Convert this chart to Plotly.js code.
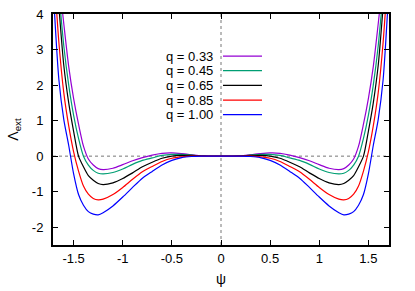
<!DOCTYPE html>
<html>
<head>
<meta charset="utf-8">
<script src="https://cdn.plot.ly/plotly-3.0.1.min.js"></script>
<style>html,body{margin:0;padding:0;background:#fff}#chart{width:415px;height:291px}</style>
</head>
<body>
<div id="chart"></div>
<script>
// psi grid
var psi = [-1.7,-1.65,-1.6,-1.55,-1.5,-1.45,-1.4,-1.35,-1.3,-1.25,-1.2,-1.1,-1.0,-0.9,-0.8,-0.7,-0.6,-0.5,-0.4,-0.3,-0.2,-0.1,0,
           0.1,0.2,0.3,0.4,0.5,0.6,0.7,0.8,0.9,1.0,1.1,1.2,1.25,1.3,1.35,1.4,1.45,1.5,1.55,1.6,1.65,1.7];

var seriesNames = ["q = 0.33","q = 0.45","q = 0.65","q = 0.85","q = 1.00"];
var seriesColors = ["#9400d3","#009e73","#000000","#ff0000","#0000ff"];

var lam033 = [6.3,5.0,3.72,2.52,1.62,0.9,0.28,-0.08,-0.25,-0.35,-0.38,-0.34,-0.24,-0.13,-0.04,0.03,0.08,0.09,0.07,0.04,0.01,0,0,
              0,0.01,0.04,0.07,0.09,0.08,0.03,-0.04,-0.13,-0.24,-0.34,-0.38,-0.35,-0.25,-0.08,0.28,0.9,1.62,2.52,3.72,5.0,6.3];
var lam045 = [6.2,4.6,3.1,2.0,1.15,0.5,0.0,-0.25,-0.4,-0.48,-0.50,-0.46,-0.36,-0.23,-0.12,-0.05,0.02,0.05,0.05,0.03,0.01,0,0,
              0,0.01,0.03,0.05,0.05,0.02,-0.05,-0.12,-0.23,-0.36,-0.46,-0.50,-0.48,-0.4,-0.25,0.0,0.5,1.15,2.0,3.1,4.6,6.2];
var lam065 = [6.0,4.2,2.55,1.5,0.7,0.0,-0.3,-0.55,-0.68,-0.77,-0.80,-0.75,-0.63,-0.47,-0.30,-0.17,-0.06,0.0,0.02,0.02,0.01,0,0,
              0,0.01,0.02,0.02,0.0,-0.06,-0.17,-0.30,-0.47,-0.63,-0.75,-0.80,-0.77,-0.68,-0.55,-0.3,0.0,0.7,1.5,2.55,4.2,6.0];
var lam085 = [5.2,3.2,1.78,0.85,0.12,-0.42,-0.84,-1.07,-1.19,-1.23,-1.21,-1.08,-0.88,-0.65,-0.44,-0.29,-0.15,-0.06,-0.02,0,0,0,0,
              0,0,0,-0.02,-0.06,-0.15,-0.29,-0.44,-0.65,-0.88,-1.08,-1.21,-1.23,-1.19,-1.07,-0.84,-0.42,0.12,0.85,1.78,3.2,5.2];
var lam100 = [4.3,2.15,1.03,0.3,-0.5,-1.08,-1.38,-1.56,-1.63,-1.65,-1.59,-1.40,-1.15,-0.88,-0.62,-0.43,-0.25,-0.12,-0.04,-0.01,0,0,0,
              0,0,-0.01,-0.04,-0.12,-0.25,-0.43,-0.62,-0.88,-1.15,-1.40,-1.59,-1.65,-1.63,-1.56,-1.38,-1.08,-0.5,0.3,1.03,2.15,4.3];

var allSeries = [lam033, lam045, lam065, lam085, lam100];

var xTicks = [-1.5,-1,-0.5,0,0.5,1,1.5];
var xTickText = ["-1.5","-1","-0.5","0","0.5","1","1.5"];
var yTicks = [-2,-1,0,1,2,3,4];
var yTickText = ["-2","-1","0","1","2","3","4"];

var FONT = "Liberation Sans, Arial, Helvetica, sans-serif";

var traces = allSeries.map(function(ys, i){
  return {x: psi, y: ys, type: 'scatter', mode: 'lines', name: seriesNames[i],
          line: {color: seriesColors[i], width: 1.2, shape: 'spline', smoothing: 0.7},
          showlegend: false, hoverinfo: 'skip'};
});

// legend in gnuplot style: text then sample line
var legTop = 0.818, legStep = 0.0635;
var annotations = [], shapes = [];
shapes.push({type:'line', xref:'paper', x0:0, x1:1, yref:'y', y0:0, y1:0, layer:'below',
             line:{color:'#777', width:1, dash:'dot'}});
shapes.push({type:'line', yref:'paper', y0:0, y1:1, xref:'x', x0:0, x1:0, layer:'below',
             line:{color:'#777', width:1, dash:'dot'}});
seriesNames.forEach(function(n, i){
  var yp = legTop - i*legStep;
  annotations.push({xref:'paper', yref:'paper', x:0.483, y:yp, text:n, showarrow:false,
                    xanchor:'right', yanchor:'middle', font:{family:FONT, size:13, color:'#000'}});
  shapes.push({type:'line', xref:'paper', yref:'paper', x0:0.506, x1:0.622, y0:yp, y1:yp,
               line:{color:seriesColors[i], width:1.3}});
});

var layout = {
  width: 415, height: 291,
  margin: {l: 53, r: 26, t: 14, b: 46, pad: 0},
  paper_bgcolor: '#fff', plot_bgcolor: '#fff',
  font: {family: FONT, size: 13, color: '#000'},
  xaxis: {range: [-1.71, 1.71], tickvals: xTicks, ticktext: xTickText,
          ticks: 'inside', ticklen: 5, tickwidth: 1, tickcolor: '#000',
          showline: true, linewidth: 2, linecolor: '#000', mirror: 'ticks',
          showgrid: false, zeroline: false, ticklabelstandoff: 0,
          title: {text: 'ψ', font: {family: FONT, size: 14}, standoff: 10},
          automargin: false, fixedrange: true},
  yaxis: {range: [-2.5, 4], tickvals: yTicks, ticktext: yTickText,
          ticks: 'inside', ticklen: 5, tickwidth: 1, tickcolor: '#000',
          showline: true, linewidth: 2, linecolor: '#000', mirror: 'ticks',
          showgrid: false, zeroline: false, ticklabelstandoff: 5,
          title: {text: 'Λ<sub>ext</sub>', font: {family: FONT, size: 14}, standoff: 10},
          automargin: false, fixedrange: true},
  annotations: annotations,
  shapes: shapes,
  showlegend: false
};

Plotly.newPlot('chart', traces, layout, {displayModeBar: false, staticPlot: true});
</script>
</body>
</html>
